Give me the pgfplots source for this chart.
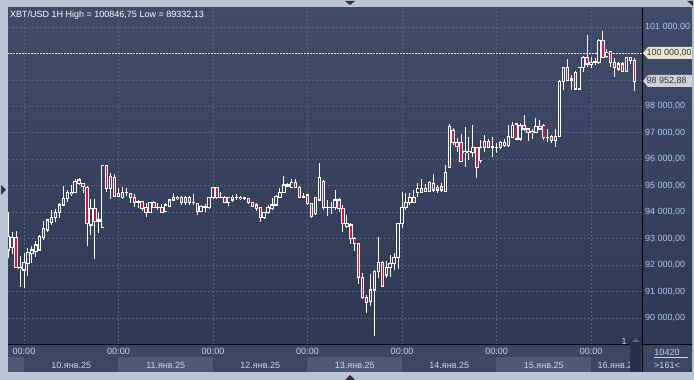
\documentclass[border=0pt]{standalone}
\usepackage{pgfplots}
\pgfplotsset{compat=1.18}
\usepackage{pgfplotstable}
\usepackage{fontspec}
\setmainfont{Liberation Sans}
\definecolor{frame}{HTML}{BAC6D6}
\definecolor{bgtop}{HTML}{3F4C69}
\definecolor{bgbot}{HTML}{2C3752}
\definecolor{bgmid}{HTML}{364360}
\definecolor{gridc}{HTML}{56637F}
\definecolor{pricec}{HTML}{A8CCF0}
\definecolor{timec}{HTML}{C4DAF0}
\definecolor{candred}{HTML}{E0103C}
\definecolor{strip}{HTML}{3A4662}
\definecolor{band}{HTML}{4D5A75}
\definecolor{tagc}{HTML}{ECE8CE}
\definecolor{tagg}{HTML}{CDD2D9}
\definecolor{tagtext}{HTML}{2E3646}
\definecolor{scrollc}{HTML}{27314A}
% t = hours from 10 Jan 2025 00:00; o c h l
\pgfplotstableread{
t o c h l
-4 92570 93099 94006 92268
-3 92683 93024 93250 92419
-2 93024 91927 93288 91927
-1 91852 91927 92343 91171
0 91814 92116 92457 91134
1 92041 92457 92646 91587
2 92419 92570 92721 92079
3 92532 92759 92910 92305
4 92570 93099 93137 92570
5 93061 93364 93666 92948
6 93326 93704 93704 93250
7 93628 93817 94082 93515
8 93780 93969 94120 93628
9 93969 94271 94347 93780
10 94271 94498 94989 94233
11 94498 94725 94838 94384
12 94687 94762 95027 94611
13 94762 95178 95254 94725
14 95216 95065 95292 95027
15 94989 95065 95103 94725
16 94951 93553 94989 92721
17 93515 94120 94498 93137
18 94120 93666 94498 92230
19 93666 93704 94006 93213
20 93439 95783 95783 93439
21 95783 94876 95783 94762
22 94876 95367 95481 94498
23 95329 94611 95443 94573
24 94611 94687 94914 94573
25 94573 94762 94951 94498
26 94725 94762 94914 94611
27 94687 94573 94725 94347
28 94573 94384 94687 94195
29 94422 94384 94460 94158
30 94422 94120 94422 94044
31 94158 94006 94347 93817
32 94006 94347 94384 94006
33 94347 94195 94422 94158
34 94158 94195 94347 94082
35 94195 94006 94309 94006
36 94044 94271 94347 94006
37 94233 94460 94498 94195
38 94460 94573 94725 94422
39 94498 94573 94611 94460
40 94536 94347 94611 94271
41 94347 94573 94611 94271
42 94573 94347 94611 94271
43 94384 94384 94687 94271
44 94309 94044 94309 93893
45 94044 94233 94271 94006
46 94195 94233 94309 94006
47 94158 94536 94573 94120
48 94536 94914 94951 94498
49 94914 94536 94951 94498
50 94536 94573 94762 94536
51 94573 94384 94611 94347
52 94347 94536 94573 94233
53 94460 94573 94649 94384
54 94536 94573 94687 94460
55 94498 94573 94611 94460
56 94498 94536 94573 94460
57 94498 94347 94536 94309
58 94347 94233 94384 94195
59 94271 94120 94347 94044
60 94158 93817 94195 93628
61 93817 93969 94006 93742
62 93969 94195 94271 93931
63 94120 94271 94536 94082
64 94271 94611 94649 94233
65 94573 94762 94914 94536
66 94725 95027 95367 94725
67 94989 95027 95103 94951
68 94951 95103 95254 94914
69 95103 94951 95254 94914
70 94951 94573 94989 94536
71 94573 94611 94725 94536
72 94649 94309 94687 94271
73 94309 93855 94347 93780
74 93931 94536 94573 93893
75 94460 95292 95859 94422
76 95178 94158 95216 94082
77 94158 94158 94460 93855
78 94158 94158 94384 93931
79 94158 94460 94838 94082
80 94460 94120 94536 94006
81 94120 93553 94271 93250
82 93477 93553 93893 93402
83 93515 92986 93591 92797
84 92986 92797 93061 92532
85 92797 91512 92797 91285
86 91549 90756 91701 90718
87 90756 90604 90869 90189
88 90642 91058 91663 90453
89 91058 91776 91814 89332
90 91776 92116 93061 91512
91 92116 91209 92154 91171
92 91625 91890 92154 91512
93 91890 92041 92381 91549
94 92041 92268 92457 91814
95 92268 93553 93591 91852
96 93553 94158 94762 93402
97 94158 94384 94725 94082
98 94384 94536 94725 94271
99 94536 94384 94838 94347
100 94762 94876 95103 94573
101 94876 94762 95254 94725
102 94800 94876 95065 94762
103 94800 95103 95178 94762
104 95065 94838 95443 94762
105 94838 94951 95027 94725
106 94989 94838 95103 94762
107 94800 95481 95783 94762
108 95707 97257 97333 95707
109 97106 96615 97182 96539
110 96652 96501 96804 96274
111 96652 95934 96955 95896
112 96237 96312 97219 95707
113 96237 96312 96841 95972
114 96237 96426 97295 96085
115 96426 95707 96463 95292
116 95972 96463 96728 95859
117 96463 96690 96917 96274
118 96690 96463 96766 96426
119 96463 96501 96841 96085
120 96426 96463 96615 96237
121 96426 96615 96690 96388
122 96652 96539 96766 96463
123 96539 96879 97295 96463
124 96841 97295 97408 96804
125 97333 96766 97371 96728
126 96766 97295 97371 96690
127 97295 97144 97673 97068
128 97144 96993 97182 96690
129 96993 97068 97144 96766
130 97030 97257 97560 97030
131 97257 97144 97484 97106
132 97295 96804 97333 96728
133 96804 96841 97144 96652
134 96879 96728 96917 96615
135 96728 96879 97144 96463
136 96879 98958 98996 96841
137 98958 99450 99487 98618
138 99450 98996 99790 98958
139 98996 99034 99185 98618
140 99298 98656 99336 98618
141 98656 99450 99487 98618
142 99450 99865 99903 99298
143 99865 99601 100697 99487
144 99601 99676 99865 99450
145 99676 99714 99828 99563
146 99639 100508 100546 99601
147 100508 99865 100847 99828
148 99903 100054 100168 99828
149 100092 99639 100092 99487
150 99639 99450 99828 99109
151 99412 99601 99676 99336
152 99601 99336 99676 99298
153 99336 99828 99865 99298
154 99752 99828 99828 99601
155 99752 98953 99828 98580
}\candles
\begin{document}
\begin{tikzpicture}[x=1pt,y=1pt]
\useasboundingbox (0,0) rectangle (694,380);
\fill[frame] (0,0) rectangle (694,380);
\shade[top color=bgtop,bottom color=bgbot] (8,8) rectangle (692,372);
% bottom time strip
\fill[strip] (8,8) rectangle (692,35);
\fill[band] (8,8) rectangle (24,22.5);
\fill[band] (118,8) rectangle (213,22.5);
\fill[band] (307,8) rectangle (402,22.5);
\fill[band] (496,8) rectangle (591,22.5);
\begin{axis}[
  at={(8pt,35pt)}, anchor=south west,
  scale only axis, width=634pt, height=337pt,
  xmin=-4.063, xmax=156.95, ymin=88979, ymax=101718,
  axis line style={draw=none},
  major tick length=0pt,
  scaled ticks=false,
  xtick={0,24,48,72,96,120,144},
  xticklabels={00:00,00:00,00:00,00:00,00:00,00:00,00:00},
  ytick={90000,91000,92000,93000,94000,95000,96000,97000,98000,99000,100000,101000},
  yticklabels={{90 000,00},{91 000,00},{92 000,00},{93 000,00},{94 000,00},{95 000,00},{96 000,00},{97 000,00},{98 000,00},{},{},{101 000,00}},
  yticklabel pos=right,
  ticklabel style={font=\fontsize{9}{10}\selectfont},
  yticklabel style={text=pricec, anchor=west, inner sep=0pt, xshift=3pt},
  xticklabel style={text=timec, anchor=north, inner sep=0pt, yshift=-3pt},
  grid=major,
  grid style={gridc, dash pattern=on 2pt off 2pt, line width=0.7pt},
  every axis plot/.append style={mark=none},
]
% 100 000 dashed line
\addplot[white, line width=0.7pt, dash pattern=on 2pt off 1pt] coordinates {(-5,100000) (158,100000)};
% wicks
\addplot[draw=none, mark=none, error bars/.cd, y dir=plus, y explicit, error mark=none,
  error bar style={draw=white, line width=0.9pt, solid}]
  table[x=t, y=l, y error expr={\thisrow{h}-\thisrow{l}}] {\candles};
% body outlines
\addplot[draw=none, mark=none, error bars/.cd, y dir=plus, y explicit, error mark=none,
  error bar style={draw=white, line width=3.4pt, solid}]
  table[x=t, y expr={min(\thisrow{o},\thisrow{c})-19}, y error expr={abs(\thisrow{c}-\thisrow{o})+38}] {\candles};
% hollow interiors
\addplot[draw=none, mark=none, error bars/.cd, y dir=plus, y explicit, error mark=none,
  error bar style={draw=bgmid, line width=1.5pt, solid}]
  table[x=t, y expr={min(\thisrow{o},\thisrow{c})+19}, y error expr={max(abs(\thisrow{c}-\thisrow{o})-38,0)}] {\candles};
% red interiors (falling candles)
\addplot[draw=none, mark=none, error bars/.cd, y dir=plus, y explicit, error mark=none,
  error bar style={draw=candred, line width=1.5pt, solid}]
  table[x=t, y expr={\thisrow{c}+19}, y error expr={max(\thisrow{o}-\thisrow{c}-38,0)}] {\candles};
\end{axis}
% frame lines
\draw[black, line width=1pt] (642,8) -- (642,372);
\draw[black, line width=1pt] (8,35) -- (692,35);
% title
\node[anchor=west, inner sep=0pt, text=white, font=\fontsize{9}{10}\selectfont] at (10,365) {XBT/USD 1H High = 100846,75 Low = 89332,13};
% date labels
\begin{scope}[font=\fontsize{9}{10}\selectfont, text=timec]
\node at (71.25,15) {10.янв.25};
\node at (165.75,15) {11.янв.25};
\node at (260.25,15) {12.янв.25};
\node at (354.75,15) {13.янв.25};
\node at (449.25,15) {14.янв.25};
\node at (543.75,15) {15.янв.25};
\node at (617.5,15) {16.янв.25};
\end{scope}
% scroll bar
\fill[scrollc] (630,8) rectangle (641,42);
\fill[gridc] (631.5,38) -- (639.5,38) -- (635.5,42) -- cycle;
\node[text=timec, font=\fontsize{9}{10}\selectfont, inner sep=0pt] at (624,39) {1};
% bottom right box
\node[text=timec, font=\fontsize{9}{10}\selectfont] at (667,28) {10420};
\draw[timec, line width=0.5pt] (654,22.5) -- (688,22.5);
\node[text=timec, font=\fontsize{9}{10}\selectfont] at (667,15) {>161<};
% price tags
\fill[tagc] (643,327) -- (648,333) -- (692,333) -- (692,321) -- (648,321) -- cycle;
\node[anchor=west, inner sep=0pt, text=tagtext, font=\fontsize{9}{10}\selectfont] at (646.5,327) {100 000,00};
\fill[tagg] (643,299) -- (648,305) -- (692,305) -- (692,293) -- (648,293) -- cycle;
\node[anchor=west, inner sep=0pt, text=tagtext, font=\fontsize{9}{10}\selectfont] at (646.5,299) {98 952,88};
% UI triangles
\fill[black!80] (345,379) -- (355,379) -- (350,375) -- cycle;
\fill[black!80] (345,0) -- (355,0) -- (350,5) -- cycle;
\fill[black!80] (1,195) -- (1,185) -- (6,190) -- cycle;
\fill[black!80] (687,379) -- (693,379) -- (693,374) -- cycle;
\end{tikzpicture}
\end{document}
